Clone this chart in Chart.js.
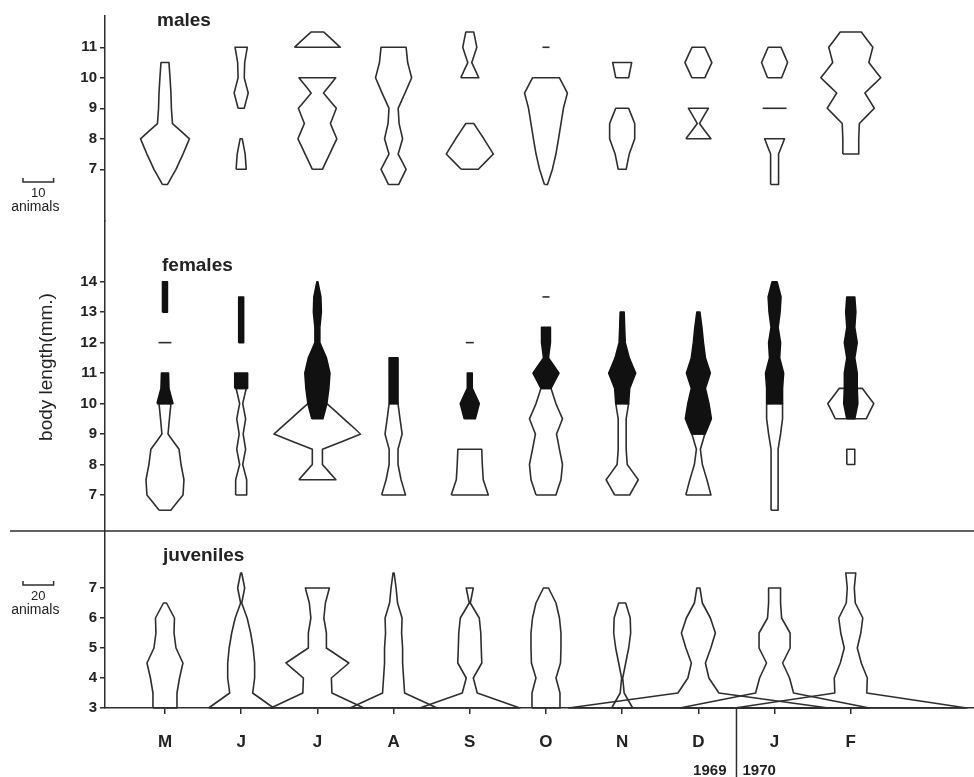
<!DOCTYPE html>
<html><head><meta charset="utf-8">
<script src="https://cdn.jsdelivr.net/npm/chart.js@4.4.1/dist/chart.umd.min.js"></script>
<style>html,body{margin:0;padding:0;background:#fff;}</style>
</head><body>
<canvas id="c" width="974" height="777"></canvas>
<script>
// ---------- data ----------
const months = ['M','J','J','A','S','O','N','D','J','F'];
const maleTicks = [7, 8, 9, 10, 11];
const femaleTicks = [7, 8, 9, 10, 11, 12, 13, 14];
const juvenileTicks = [3, 4, 5, 6, 7];
const years = ['1969', '1970'];

// each month: list of kites; each kite: [body length (mm), number of animals]
const males = [
  [[[6.5,1.6],[7,7.2],[7.5,11.8],[8,16],[8.5,4.9],[9,4.2],[9.5,3.9],[10,3.3],[10.5,2.6]]],
  [[[9,2],[9.5,4.6],[10,2],[10.5,2.3],[11,4]], [[7,3.3],[7.5,2.6],[8,0.7]]],
  [[[11,15],[11.5,4.2]], [[7,3.3],[7.5,8],[8,12.7],[8.5,8.5],[9,12.4],[9.5,4],[10,12]]],
  [[[6.5,3.3],[7,8.2],[7.5,3],[8,5.9],[8.5,3.6],[9,3],[9.5,7.5],[10,11.8],[10.5,9.2],[11,8.2]]],
  [[[10,5.9],[10.5,1.3],[11,4.6],[11.5,2.6]], [[7,5.6],[7.5,15.4],[8,9.2],[8.5,2.6]]],
  [[[11,2.3]], [[6.5,1],[7,4.2],[7.5,6.5],[8,8.2],[8.5,9.8],[9,11.4],[9.5,14],[10,8.8]]],
  [[[10,4.2],[10.5,6.2]], [[7,2.6],[7.5,4.6],[8,8.2],[8.5,8.2],[9,4.2]]],
  [[[10,4.2],[10.5,8.8],[11,4.2]], [[8,8.2],[8.5,0.7],[9,6.5]]],
  [[[10,4.6],[10.5,8.5],[11,4.2]], [[9,7.8]], [[6.5,2.6],[7,2.6],[7.5,2.6],[8,6.5]]],
  [[[7.5,5.2],[8,5.2],[8.5,5.6],[9,15.4],[9.5,9.2],[10,19.6],[10.5,11.8],[11,14.4],[11.5,6.9]]]
];
const femalesOpen = [
  [[[12,4.2]], [[6.5,3.8],[7,11.8],[7.5,12.4],[8,10.5],[8.5,9.2],[9,2],[9.5,2.9],[10,3.9]]],
  [[[7,3.6],[7.5,3.6],[8,1],[8.5,2.9],[9,1.3],[9.5,2.9],[10,1],[10.5,3.3]]],
  [[[7.5,12.1],[8,3.3],[8.5,3.3],[9,28.4],[9.5,17.3],[10,6.2]]],
  [[[7,7.8],[7.5,4.9],[8,2.9],[8.5,2.9],[9,5.6],[9.5,4.2],[10,2.9]]],
  [[[12,2.6]], [[7,12.1],[7.5,8.8],[8,8.2],[8.5,7.8]]],
  [[[13.5,2.3]], [[7,6.5],[7.5,9.8],[8,10.8],[8.5,8.8],[9,6.9],[9.5,10.8],[10,6.5],[10.5,3.3]]],
  [[[7,4.9],[7.5,10.5],[8,3.3],[8.5,2.6],[9,2.6],[9.5,2.6],[10,4.2]]],
  [[[7,8.2],[7.5,5.6],[8,2.6],[8.5,1.3],[9,4.2]]],
  [[[6.5,2.3],[7,2.3],[7.5,2.3],[8,2.3],[8.5,2.3],[9,3.9],[9.5,5.2],[10,5.2]]],
  [[[8,2.6],[8.5,2.6]], [[9.5,10.1],[10,15],[10.5,7.5]]]
];
const femalesShaded = [
  [[[13,1.6],[13.5,1.6],[14,1.6]], [[10,5.2],[10.5,2.6],[11,2.3]]],
  [[[12,1.6],[12.5,1.6],[13,1.6],[13.5,1.6]], [[10.5,4.2],[11,4.2]]],
  [[[9.5,3.6],[10,6.2],[10.5,7.5],[11,8.2],[11.5,5.9],[12,1.6],[12.5,1.6],[13,2.6],[13.5,2.3],[14,0.3]]],
  [[[10,2.9],[10.5,2.9],[11,2.9],[11.5,2.9]]],
  [[[9.5,3.6],[10,6.2],[10.5,1.6],[11,1.6]]],
  [[[10.5,3.3],[11,8.5],[11.5,1.6],[12,2.9],[12.5,2.9]]],
  [[[10,4.2],[10.5,4.9],[11,8.8],[11.5,4.6],[12,2],[12.5,1.6],[13,1.3]]],
  [[[9,4.4],[9.5,8.5],[10,6.9],[10.5,4.6],[11,7.8],[11.5,4.6],[12,3.3],[12.5,2.3],[13,1]]],
  [[[10,5.2],[10.5,5.2],[11,5.9],[11.5,3.3],[12,3.9],[12.5,2.3],[13,3.6],[13.5,4.2],[14,1.6]]],
  [[[9.5,2.6],[10,4.6],[10.5,4.2],[11,4.2],[11.5,2.6],[12,4.2],[12.5,2.6],[13,3.3],[13.5,2.6]]]
];
const juveniles = [
  [[[3,15.7],[3.5,15.7],[4,19],[4.5,23.5],[5,14.4],[5.5,11.8],[6,12.4],[6.5,2]]],
  [[[3,42.5],[3.5,15],[4,17.6],[4.5,17.6],[5,15.7],[5.5,12.4],[6,7.8],[6.5,0.7],[7,4.6],[7.5,0.7]]],
  [[[3,60.8],[3.5,19],[4,18.3],[4.5,41.2],[5,11.8],[5.5,11.8],[6,8.5],[6.5,10.5],[7,15.7]]],
  [[[3,56.9],[3.5,14.4],[4,13.1],[4.5,11.8],[5,11.8],[5.5,10.5],[6,11.1],[6.5,5.2],[7,3.3],[7.5,0.7]]],
  [[[3,65.4],[3.5,9.8],[4,4.6],[4.5,15.7],[5,15],[5.5,14.4],[6,12.4],[6.5,0.7],[7,4.6]]],
  [[[3,18.3],[3.5,18.3],[4,13.1],[4.5,19],[5,19.6],[5.5,19.6],[6,17.6],[6.5,13.1],[7,3.3]]],
  [[[3,13.7],[3.5,2.6],[4,0.7],[4.5,4.6],[5,8.5],[5.5,11.1],[6,10.5],[6.5,4.6]]],
  [[[3,170],[3.5,26.8],[4,13.7],[4.5,9.2],[5,16.3],[5.5,22.2],[6,15.7],[6.5,5.2],[7,2]]],
  [[[3,124],[3.5,24.8],[4,19.6],[4.5,10.5],[5,20.3],[5.5,20.3],[6,9.2],[6.5,7.8],[7,7.8]]],
  [[[3,151.6],[3.5,20.9],[4,21.6],[4.5,13.7],[5,8.5],[5.5,13.1],[6,15.7],[6.5,5.9],[7,4.6],[7.5,6.5]]]
];

// scale: number of animals (adult scale bar) spanning one month column
const ANIMALS_PER_COLUMN = 24.9;
const JUV_FACTOR = 2; // juvenile scale bar = 20 animals

// ---------- build datasets ----------
const INK = '#2e2e2e';
function kitePoints(m, kite, unit) {
  const k = kite.slice().sort((a, b) => a[0] - b[0]);
  if (k.length === 1) {
    const [L, c] = k[0];
    return [{x: m - c * unit / 2, y: L}, {x: m + c * unit / 2, y: L}];
  }
  const left = k.map(([L, c]) => ({x: m - c * unit / 2, y: L}));
  const right = k.slice().reverse().map(([L, c]) => ({x: m + c * unit / 2, y: L}));
  return left.concat(right, [left[0]]);
}
const datasets = [];
function addPanel(panel, axis, unit, shaded) {
  panel.forEach((kites, m) => {
    kites.forEach(kite => {
      datasets.push({
        data: kitePoints(m, kite, unit),
        yAxisID: axis,
        borderColor: shaded ? '#111' : INK,
        backgroundColor: shaded ? '#111' : 'rgba(0,0,0,0)',
        fill: shaded ? 'shape' : false,
        borderWidth: 1.6,
        borderJoinStyle: 'round',
        pointRadius: 0, pointHoverRadius: 0,
        tension: 0.0001, capBezierPoints: false, clip: false,
        order: shaded ? 0 : 1
      });
    });
  });
}
addPanel(males, 'yM', 1 / ANIMALS_PER_COLUMN, false);
addPanel(femalesOpen, 'yF', 1 / ANIMALS_PER_COLUMN, false);
addPanel(femalesShaded, 'yF', 1 / ANIMALS_PER_COLUMN, true);
addPanel(juveniles, 'yJ', 1 / (ANIMALS_PER_COLUMN * JUV_FACTOR), false);

const FONT = "'Liberation Sans', Arial, Helvetica, sans-serif";
Chart.defaults.font.family = FONT;
Chart.defaults.color = '#222';

function yAxis(min, max, ticks, weightPx, order) {
  return {
    type: 'linear', position: 'left', stack: 'panels', stackWeight: weightPx, weight: order,
    min: min, max: max,
    afterBuildTicks: s => { s.ticks = ticks.map(v => ({value: v})); },
    afterFit: s => { s.width = 105; },
    ticks: {font: {size: 15, weight: 'bold'}, color: '#222', padding: 3},
    grid: {drawOnChartArea: false, drawTicks: true, tickLength: 5, color: INK, lineWidth: 1.5},
    border: {display: true, color: INK, width: 1.5}
  };
}

const annot = {
  id: 'annot',
  afterDraw(chart) {
    const {ctx, chartArea, scales} = chart;
    const x = scales.x;
    const pxPerAnimal = x.getPixelForValue(1 / ANIMALS_PER_COLUMN) - x.getPixelForValue(0);
    ctx.save();
    ctx.strokeStyle = INK; ctx.fillStyle = '#222'; ctx.lineWidth = 1.5;
    // separator between adults and juveniles
    const ySep = scales.yJ.top;
    ctx.beginPath(); ctx.moveTo(10, ySep); ctx.lineTo(chartArea.right, ySep); ctx.stroke();
    // year divider
    const xd = x.getPixelForValue(7.5);
    ctx.beginPath(); ctx.moveTo(xd, chartArea.bottom); ctx.lineTo(xd, chart.height); ctx.stroke();
    ctx.font = 'bold 15px ' + FONT; ctx.textBaseline = 'alphabetic';
    ctx.textAlign = 'right'; ctx.fillText(years[0], xd - 10, 775);
    ctx.textAlign = 'left'; ctx.fillText(years[1], xd + 6, 775);
    // panel labels
    ctx.font = 'bold 19px ' + FONT; ctx.textAlign = 'left';
    ctx.fillText('males', 157, 26);
    ctx.fillText('females', 162, 271);
    ctx.fillText('juveniles', 163, 561);
    // scale bars
    function bar(x0, y, len, label) {
      ctx.beginPath(); ctx.moveTo(x0, y - 4); ctx.lineTo(x0, y); ctx.lineTo(x0 + len, y); ctx.lineTo(x0 + len, y - 4); ctx.stroke();
      ctx.textAlign = 'center'; ctx.textBaseline = 'middle';
      ctx.font = '13px ' + FONT; ctx.fillText(label, x0 + len / 2, y + 11);
      ctx.font = '14px ' + FONT; ctx.fillText('animals', x0 + len / 2 - 3, y + 25);
    }
    bar(23, 182, 10 * pxPerAnimal, '10');
    bar(23, 585, 20 * pxPerAnimal / JUV_FACTOR, '20');
    // y title
    ctx.save();
    ctx.translate(47, 367); ctx.rotate(-Math.PI / 2);
    ctx.font = '19px ' + FONT; ctx.textAlign = 'center'; ctx.textBaseline = 'middle';
    ctx.fillText('body length(mm.)', 0, 0);
    ctx.restore();
    ctx.restore();
  }
};

new Chart(document.getElementById('c'), {
  type: 'line',
  data: {datasets: datasets},
  plugins: [annot],
  options: {
    responsive: false, animation: false, events: [],
    layout: {padding: {top: 16, left: 0, right: 0, bottom: 0}},
    plugins: {legend: {display: false}, tooltip: {enabled: false}, title: {display: false}},
    scales: {
      x: {
        type: 'linear', min: -0.787, max: 10.617,
        afterBuildTicks: s => { s.ticks = months.map((_, i) => ({value: i})); },
        afterFit: s => { s.height = 69; },
        ticks: {callback: v => months[v], font: {size: 17, weight: 'bold'}, color: '#222', padding: 18, autoSkip: false, maxRotation: 0},
        grid: {drawOnChartArea: false, drawTicks: true, tickLength: 6, color: INK, lineWidth: 1.5},
        border: {display: true, color: INK, width: 1.5}
      },
      yJ: yAxis(3, 8.9, juvenileTicks, 177, 1),
      yF: yAxis(5.818, 15.992, femaleTicks, 310, 2),
      yM: yAxis(5.305, 12.026, maleTicks, 205, 3)
    }
  }
});
</script>
</body></html>
